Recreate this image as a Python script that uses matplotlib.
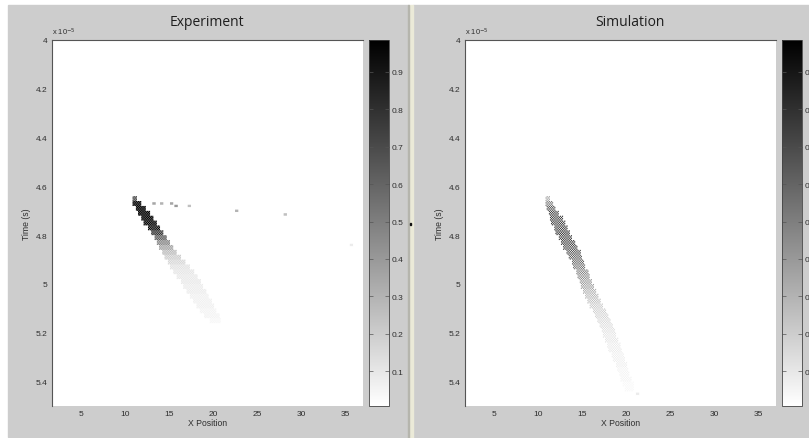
import numpy as np
import matplotlib.pyplot as plt
from matplotlib.patches import Rectangle
from matplotlib.ticker import FuncFormatter

plt.rcParams['font.family'] = ['Liberation Sans', 'DejaVu Sans']

# --- data (time in units of 1e-5 s) ---
# Experiment: one band per time row -> left x, right x, intensity
exp_t = [4.64, 4.66, 4.68, 4.70, 4.72, 4.74, 4.76, 4.78, 4.80, 4.82, 4.84, 4.86, 4.88,
         4.90, 4.92, 4.94, 4.96, 4.98, 5.00, 5.02, 5.04, 5.06, 5.08, 5.10, 5.12, 5.14]
exp_x0 = [10.8, 10.9, 11.2, 11.5, 11.8, 12.1, 12.6, 13.0, 13.3, 13.6, 13.9, 14.2, 14.5,
          14.8, 15.1, 15.5, 15.9, 16.3, 16.6, 17.0, 17.3, 17.7, 18.1, 18.5, 19.0, 19.6]
exp_x1 = [11.3, 11.9, 12.4, 12.8, 13.2, 13.6, 14.0, 14.4, 14.7, 15.1, 15.5, 15.9, 16.3,
          16.8, 17.3, 17.8, 18.2, 18.6, 18.9, 19.2, 19.5, 19.8, 20.1, 20.4, 20.7, 20.9]
exp_level = [0.55, 0.95, 0.98, 0.97, 0.95, 0.88, 0.75, 0.60, 0.48, 0.36, 0.27, 0.20, 0.15,
             0.12, 0.09, 0.08, 0.07, 0.07, 0.06, 0.06, 0.05, 0.05, 0.05, 0.04, 0.04, 0.03]

# Experiment: isolated spots
exp_spot_x = [13.1, 14.0, 15.1, 15.7, 17.1, 22.5, 28.0, 35.6]
exp_spot_t = [4.665, 4.67, 4.665, 4.68, 4.68, 4.695, 4.715, 4.84]
exp_spot_level = [0.35, 0.30, 0.35, 0.40, 0.25, 0.30, 0.25, 0.08]

# Simulation
sim_t = [4.64, 4.66, 4.68, 4.70, 4.72, 4.74, 4.76, 4.78, 4.80, 4.82, 4.84, 4.86, 4.88,
         4.90, 4.92, 4.94, 4.96, 4.98, 5.00, 5.02, 5.04, 5.06, 5.08, 5.10, 5.12, 5.14,
         5.16, 5.18, 5.20, 5.22, 5.24, 5.26, 5.28, 5.30, 5.32, 5.34, 5.36, 5.38, 5.40, 5.42]
sim_x0 = [10.9, 10.9, 11.0, 11.2, 11.3, 11.5, 11.8, 12.0, 12.3, 12.6, 12.9, 13.2, 13.5,
          13.8, 14.0, 14.3, 14.5, 14.7, 14.9, 15.1, 15.4, 15.6, 15.9, 16.2, 16.5, 16.7,
          17.0, 17.2, 17.4, 17.6, 17.8, 18.0, 18.3, 18.5, 18.8, 19.0, 19.2, 19.4, 19.6, 19.8]
sim_x1 = [11.3, 11.7, 12.0, 12.4, 12.8, 13.1, 13.4, 13.6, 13.9, 14.2, 14.5, 14.8, 15.0,
          15.2, 15.4, 15.7, 15.9, 16.1, 16.3, 16.6, 16.9, 17.1, 17.4, 17.7, 18.0, 18.2,
          18.5, 18.7, 18.9, 19.1, 19.3, 19.5, 19.7, 19.9, 20.1, 20.2, 20.4, 20.6, 20.8, 20.9]
sim_level = [0.20, 0.30, 0.38, 0.42, 0.42, 0.42, 0.42, 0.44, 0.42, 0.42, 0.40, 0.38, 0.36,
             0.34, 0.31, 0.28, 0.26, 0.23, 0.21, 0.18, 0.16, 0.14, 0.12, 0.11, 0.10, 0.09,
             0.08, 0.07, 0.06, 0.06, 0.05, 0.05, 0.04, 0.04, 0.04, 0.03, 0.03, 0.03, 0.02, 0.02]
sim_spot_x = [21.2]
sim_spot_t = [5.445]
sim_spot_level = [0.08]

x_ticks = [5, 10, 15, 20, 25, 30, 35]
t_ticks = [4.0, 4.2, 4.4, 4.6, 4.8, 5.0, 5.2, 5.4]
cbar_ticks = [0.1, 0.2, 0.3, 0.4, 0.5, 0.6, 0.7, 0.8, 0.9]

x_lo, x_hi = 1.7, 37.0
t_lo, t_hi = 4.0, 5.5
n_cols, n_rows = 282, 300


def build_map(t, x0, x1, level, sx, st, sl, grain):
    img = np.zeros((n_rows, n_cols))
    dx = (x_hi - x_lo) / n_cols
    dt = (t_hi - t_lo) / n_rows
    xc = x_lo + dx * (np.arange(n_cols) + 0.5)
    for ti, a, b, v in zip(t, x0, x1, level):
        r = int(round((ti - t_lo) / dt))
        img[r:r + 4, (xc >= a) & (xc <= b)] = v
    # detector pixel grain (checkered pattern)
    ii, jj = np.indices(img.shape)
    img = img * np.where((ii + jj) % 2 == 0, 1 + grain, 1 - grain)
    for x, ti, v in zip(sx, st, sl):
        r = int((ti - t_lo) / dt)
        c = int((x - x_lo) / dx)
        img[r:r + 2, c:c + 3] = v
    return np.clip(img, 0, 1)


exp_map = build_map(exp_t, exp_x0, exp_x1, exp_level,
                    exp_spot_x, exp_spot_t, exp_spot_level, 0.35)
sim_map = build_map(sim_t, sim_x0, sim_x1, sim_level,
                    sim_spot_x, sim_spot_t, sim_spot_level, 0.8)

W, H = 809, 439
fig = plt.figure(figsize=(W / 100, H / 100), dpi=100)
fig.patch.set_facecolor('white')


def px_rect(x0, y0, x1, y1, **kw):
    fig.patches.append(Rectangle((x0 / W, 1 - y1 / H), (x1 - x0) / W, (y1 - y0) / H,
                                 transform=fig.transFigure, zorder=-5, **kw))


# window panels and the splitter between them
px_rect(8, 6, 409, 438, color='#cdcdcd')
px_rect(413, 6, 809, 439, color='#cdcdcd')
px_rect(409, 6, 413, 439, color='#ebead8')
px_rect(408, 6, 409, 439, color='#b5b5ad')
px_rect(409.5, 224, 411, 226, color='#111111')


def axes_px(x0, y0, x1, y1):
    return fig.add_axes([x0 / W, 1 - y1 / H, (x1 - x0) / W, (y1 - y0) / H])


tick_fmt = FuncFormatter(lambda v, p: '%g' % round(v, 3))
panels = [('Experiment', exp_map, 52, 207), ('Simulation', sim_map, 465, 630)]
txt = '#2e2e2e'

for title, img, left, title_x in panels:
    ax = axes_px(left, 41, left + 311, 407)
    ax.set_facecolor('white')
    im = ax.imshow(img, cmap='gray_r', vmin=0.007, vmax=0.985, interpolation='antialiased',
                   extent=[x_lo, x_hi, t_hi, t_lo], aspect='auto')
    ax.set_xlim(x_lo, x_hi)
    ax.set_ylim(t_hi, t_lo)
    ax.set_xticks(x_ticks)
    ax.set_yticks(t_ticks)
    ax.xaxis.set_major_formatter(tick_fmt)
    ax.yaxis.set_major_formatter(tick_fmt)
    ax.tick_params(length=0, labelsize=6, labelcolor=txt, pad=3)
    for side in ['right', 'bottom']:
        ax.spines[side].set_visible(False)
    for side in ['top', 'left']:
        ax.spines[side].set_color('#555555')
        ax.spines[side].set_linewidth(0.8)
    ax.set_xlabel('X Position', fontsize=6.2, color=txt, labelpad=0.5)
    ax.set_ylabel('Time (s)', fontsize=6.2, color=txt, labelpad=3.5)
    ax.text(0.0, 1.008, r'x 10$^{-5}$', transform=ax.transAxes, fontsize=5.4,
            color=txt, ha='left', va='bottom')
    fig.text(title_x / W, 1 - 22 / H, title, fontsize=10, family=['Open Sans', 'DejaVu Sans'],
             color='#1e1e1e', ha='center', va='center')

    cax = axes_px(left + 317, 41, left + 337, 407)
    cb = fig.colorbar(im, cax=cax, ticks=cbar_ticks)
    cb.outline.set_edgecolor('#444444')
    cb.outline.set_linewidth(0.6)
    cax.spines['left'].set_color('#000000')
    cax.spines['left'].set_linewidth(1.0)
    cax.tick_params(direction='in', length=3, width=0.5, color='#555555', left=True,
                    right=True, labelsize=6, labelcolor=txt, pad=2)
    cax.yaxis.set_major_formatter(tick_fmt)

fig.savefig('out.png', dpi=100, facecolor=fig.get_facecolor())
